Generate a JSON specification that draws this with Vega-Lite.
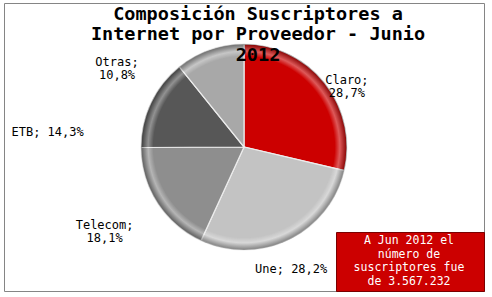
{
  "$schema": "https://vega.github.io/schema/vega-lite/v6.json",
  "width": 480,
  "height": 288,
  "autosize": {"type": "none"},
  "padding": {"left": 4, "top": 3, "right": 8, "bottom": 6},
  "background": "white",
  "view": {"stroke": "#858585", "strokeWidth": 1},
  "config": {
    "view": {"stroke": "#858585", "strokeWidth": 1},
    "text": {"font": "DejaVu Sans Mono", "fontSize": 12, "color": "#000000"}
  },
  "title": {
    "text": ["Composición Suscriptores a", "Internet por Proveedor - Junio", "2012"],
    "font": "DejaVu Sans Mono",
    "fontSize": 18.5,
    "fontWeight": "bold",
    "color": "#000000",
    "anchor": "middle",
    "lineHeight": 20.5,
    "offset": -93,
    "dx": 14
  },
  "data": {
    "values": [
      {"proveedor": "Claro", "pct": 28.7, "label": "Claro;\n28,7%"},
      {"proveedor": "Une", "pct": 28.2, "label": "Une; 28,2%"},
      {"proveedor": "Telecom", "pct": 18.1, "label": "Telecom;\n18,1%"},
      {"proveedor": "ETB", "pct": 14.3, "label": "ETB; 14,3%"},
      {"proveedor": "Otras", "pct": 10.8, "label": "Otras;\n10,8%"}
    ]
  },
  "layer": [
    {
      "mark": {"type": "arc", "outerRadius": 103, "stroke": "#ececec", "strokeWidth": 1.2},
      "encoding": {
        "theta": {"field": "pct", "type": "quantitative", "stack": true},
        "order": {"field": "pct", "sort": "descending"},
        "color": {
          "field": "proveedor",
          "type": "nominal",
          "scale": {
            "domain": ["Claro", "Une", "Telecom", "ETB", "Otras"],
            "range": ["#cc0000", "#c3c3c3", "#8e8e8e", "#575757", "#a8a8a8"]
          },
          "legend": null
        }
      }
    },
    {
      "data": {"values": [{"anillo": "borde"}]},
      "mark": {
        "type": "arc",
        "outerRadius": 103,
        "fill": {
          "gradient": "radial",
          "x1": 0.5, "y1": 0.5, "r1": 0,
          "x2": 0.5, "y2": 0.5, "r2": 0.5,
          "stops": [
            {"offset": 0, "color": "rgba(255,255,255,0)"},
            {"offset": 0.88, "color": "rgba(255,255,255,0)"},
            {"offset": 0.93, "color": "rgba(255,255,255,0.35)"},
            {"offset": 1, "color": "rgba(0,0,0,0.35)"}
          ]
        }
      },
      "encoding": {}
    },
    {
      "mark": {"type": "text", "radius": 123, "thetaOffset": 0.09, "lineBreak": "\n", "lineHeight": 13},
      "encoding": {
        "theta": {"field": "pct", "type": "quantitative", "stack": true},
        "order": {"field": "pct", "sort": "descending"},
        "text": {"condition": {"test": "datum.proveedor == 'Claro'", "field": "label"}, "value": ""}
      }
    },
    {
      "mark": {"type": "text", "radius": 131, "thetaOffset": 0.087, "lineBreak": "\n", "lineHeight": 13},
      "encoding": {
        "theta": {"field": "pct", "type": "quantitative", "stack": true},
        "order": {"field": "pct", "sort": "descending"},
        "text": {"condition": {"test": "datum.proveedor == 'Une'", "field": "label"}, "value": ""}
      }
    },
    {
      "mark": {"type": "text", "radius": 160, "thetaOffset": 0.06, "lineBreak": "\n", "lineHeight": 13},
      "encoding": {
        "theta": {"field": "pct", "type": "quantitative", "stack": true},
        "order": {"field": "pct", "sort": "descending"},
        "text": {"condition": {"test": "datum.proveedor == 'Telecom'", "field": "label"}, "value": ""}
      }
    },
    {
      "mark": {"type": "text", "radius": 197, "thetaOffset": -0.367, "lineBreak": "\n", "lineHeight": 13},
      "encoding": {
        "theta": {"field": "pct", "type": "quantitative", "stack": true},
        "order": {"field": "pct", "sort": "descending"},
        "text": {"condition": {"test": "datum.proveedor == 'ETB'", "field": "label"}, "value": ""}
      }
    },
    {
      "mark": {"type": "text", "radius": 153, "thetaOffset": -0.64, "lineBreak": "\n", "lineHeight": 13},
      "encoding": {
        "theta": {"field": "pct", "type": "quantitative", "stack": true},
        "order": {"field": "pct", "sort": "descending"},
        "text": {"condition": {"test": "datum.proveedor == 'Otras'", "field": "label"}, "value": ""}
      }
    },
    {
      "data": {"values": [{"suscriptores": 3567232}]},
      "mark": {"type": "text", "text": ""},
      "encoding": {
        "color": {
          "field": "suscriptores",
          "type": "quantitative",
          "scale": {"range": ["#cc0000", "#cc0000"]},
          "legend": {
            "type": "gradient",
            "direction": "horizontal",
            "title": ["A Jun 2012 el", "número de", "suscriptores fue", "de 3.567.232"],
            "orient": "bottom-right",
            "offset": 0,
            "padding": 3,
            "fillColor": "#cc0000",
            "strokeColor": "#7a0000",
            "titleColor": "#ffffff",
            "titleFont": "DejaVu Sans Mono",
            "titleFontSize": 11.5,
            "titleFontWeight": "normal",
            "titleAlign": "center",
            "titleAnchor": "middle",
            "titleLineHeight": 13.5,
            "titlePadding": 0,
            "gradientLength": 142,
            "gradientThickness": 0.1,
            "gradientStrokeWidth": 0,
            "gradientOpacity": 0,
            "labelExpr": "''",
            "labelFontSize": 0,
            "labelOffset": 0
          }
        }
      }
    }
  ],
  "resolve": {"scale": {"color": "independent"}}
}
